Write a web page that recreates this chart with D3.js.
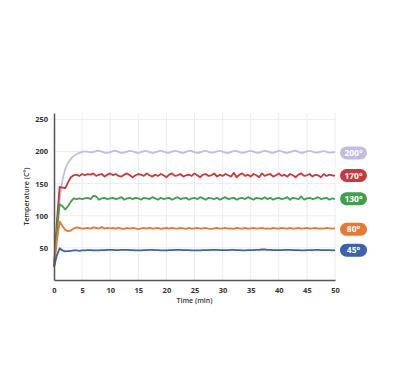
<!DOCTYPE html>
<html>
<head>
<meta charset="utf-8">
<script src="https://cdn.jsdelivr.net/npm/d3@7"></script>
<style>
  body { margin: 0; background: #fff; }
  svg { display: block; font-family: "Open Sans", "DejaVu Sans", sans-serif; }
</style>
</head>
<body>
<div id="chart"></div>
<script>
// Time samples (min)
const times = [
  0, 0.5, 1, 1.5, 2, 2.5, 3, 3.5, 4, 4.5, 5,
  5.5, 6, 6.5, 7, 7.5, 8, 8.5, 9, 9.5, 10,
  10.5, 11, 11.5, 12, 12.5, 13, 13.5, 14, 14.5, 15,
  15.5, 16, 16.5, 17, 17.5, 18, 18.5, 19, 19.5, 20,
  20.5, 21, 21.5, 22, 22.5, 23, 23.5, 24, 24.5, 25,
  25.5, 26, 26.5, 27, 27.5, 28, 28.5, 29, 29.5, 30,
  30.5, 31, 31.5, 32, 32.5, 33, 33.5, 34, 34.5, 35,
  35.5, 36, 36.5, 37, 37.5, 38, 38.5, 39, 39.5, 40,
  40.5, 41, 41.5, 42, 42.5, 43, 43.5, 44, 44.5, 45,
  45.5, 46, 46.5, 47, 47.5, 48, 48.5, 49, 49.5, 50
];

const temp200 = [
  20, 75, 128, 157, 173, 183, 189, 193, 196, 198, 199.5,
  200.5, 199.5, 198.5, 199.5, 201, 201.5, 200, 198, 197.5, 199,
  201, 201.5, 199.5, 197.5, 198, 200, 201.5, 200.5, 198.5, 197.5,
  199, 201, 201, 199, 197.5, 198.5, 200.5, 201.5, 200, 198,
  198, 200, 201.5, 200.5, 198.5, 197.5, 199.5, 201.5, 201, 199,
  197.5, 198.5, 200.5, 201.5, 199.5, 198, 198.5, 200.5, 201.5, 200,
  198, 197.5, 199.5, 201, 201, 199, 197.5, 198.5, 200.5, 201.5,
  200, 198, 198, 200, 201.5, 200.5, 198.5, 197.5, 199.5, 201.5,
  200.5, 198.5, 197.5, 199, 201, 201.5, 199.5, 197.5, 198.5, 200.5,
  201.5, 200, 198, 198.5, 200, 201, 199.5, 198, 198.5, 199.5
];

const temp170 = [
  20, 90, 145, 144, 143, 152, 160, 163, 164, 162, 165,
  163, 165, 164, 166, 162, 164, 165, 161, 164, 166,
  163, 165, 162, 161, 164, 166, 163, 160, 163, 165,
  164, 162, 166, 163, 161, 164, 162, 165, 163, 160,
  164, 166, 162, 163, 165, 161, 163, 164, 162, 166,
  163, 160, 164, 165, 162, 163, 166, 161, 164, 162,
  165, 163, 161, 167, 160, 164, 166, 162, 164, 161,
  165, 163, 160, 166, 162, 164, 165, 161, 163, 166,
  162, 164, 161, 165, 163, 160, 164, 166, 162, 163,
  165, 161, 164, 163, 160, 165, 162, 164, 163, 162
];

const temp130 = [
  20, 75, 118, 115, 110, 115, 122, 127, 126, 127, 126,
  127, 128, 126, 131, 130, 125, 127, 128, 126, 127,
  128, 126, 127, 129, 125, 127, 128, 126, 128, 127,
  125, 128, 127, 126, 129, 127, 125, 128, 126, 127,
  128, 125, 127, 129, 126, 127, 128, 125, 127, 128,
  126, 129, 127, 125, 128, 127, 126, 128, 125, 127,
  129, 126, 127, 128, 125, 127, 128, 126, 129, 127,
  125, 128, 127, 126, 129, 126, 128, 125, 127, 128,
  126, 127, 129, 125, 128, 127, 126, 130, 125, 127,
  128, 126, 127, 129, 126, 127, 128, 125, 127, 126
];

const temp80 = [
  20, 60, 91, 84, 78, 76, 77, 80, 82, 81, 80,
  80.5, 81, 80, 82, 81, 80, 82.5, 80, 81, 80.5,
  81, 80, 81.5, 80, 79.5, 81, 80, 81, 80.5, 79,
  80.5, 81, 80, 81.5, 80, 80.5, 81, 79.5, 80.5, 81,
  80, 81, 80.5, 80, 81, 80.5, 79.5, 81, 80, 80.5,
  81, 80, 80.5, 81, 80, 79.5, 80.5, 81, 80, 80.5,
  81, 80, 80.5, 79.5, 81, 80.5, 80, 81, 80, 80.5,
  81, 80, 80.5, 81, 80, 80.5, 79.5, 81, 80.5, 80,
  81, 80.5, 80, 81, 80, 80.5, 81, 80, 80.5, 81,
  80, 80.5, 81, 80, 80.5, 80, 81, 80.5, 80, 80.5
];

const temp45 = [
  20, 38, 49.5, 46, 44.5, 45, 45.5, 46, 46, 45.5, 46,
  46, 46.5, 46.5, 46, 46, 46, 46.5, 46.5, 47, 47,
  47, 46.5, 46.5, 47, 47, 47, 46.5, 46.5, 46, 46,
  46, 46.5, 46.5, 47, 47, 46.5, 46.5, 46, 46, 46,
  46.5, 46.5, 47, 47, 47, 46.5, 46.5, 46.5, 46, 46,
  46, 46, 46.5, 46.5, 46.5, 47, 47, 47, 46.5, 46.5,
  46.5, 46.5, 47, 47, 46.5, 46.5, 46, 46, 46.5, 46.5,
  46.5, 47, 47, 47.5, 47.5, 47, 47, 46.5, 46.5, 46.5,
  46.5, 47, 47, 47, 46.5, 46.5, 46.5, 46, 46, 46.5,
  46.5, 46.5, 47, 47, 46.5, 46.5, 46.5, 46.5, 46, 46.5
];

const seriesLabels = ["200°", "170°", "130°", "80°", "45°"];
const seriesValues = [temp200, temp170, temp130, temp80, temp45];
const seriesColors = ["#c3bcdf", "#c9383e", "#3f9f4a", "#e37a35", "#3c63ab"];
const xTicks = [0, 5, 10, 15, 20, 25, 30, 35, 40, 45, 50];
const yTicks = [50, 100, 150, 200, 250];

(function () {
  const W = 400, H = 375;
  const x = d3.scaleLinear().domain([0, 50]).range([54, 335]);
  const y = d3.scaleLinear().domain([0, 260]).range([280, 113]);

  const svg = d3.select("#chart").append("svg")
    .attr("width", W).attr("height", H);

  // grid
  svg.append("g").selectAll("line.v")
    .data(xTicks.slice(1))
    .join("line")
    .attr("x1", d => x(d)).attr("x2", d => x(d))
    .attr("y1", y(260)).attr("y2", y(0))
    .attr("stroke", "#ececec").attr("stroke-width", 1);

  svg.append("g").selectAll("line.h")
    .data(yTicks)
    .join("line")
    .attr("x1", x(0)).attr("x2", x(50) + 1)
    .attr("y1", d => y(d)).attr("y2", d => y(d))
    .attr("stroke", "#ececec").attr("stroke-width", 1);

  // lines
  seriesValues.forEach((vals, i) => {
    const pts = times.map((t, j) => [t, vals[j]]);
    svg.append("path")
      .datum(pts)
      .attr("d", d3.line()
        .x(d => x(d[0]))
        .y(d => y(d[1]))
        .curve(i === 0 ? d3.curveBasis : d3.curveLinear))
      .attr("fill", "none")
      .attr("stroke", seriesColors[i])
      .attr("stroke-width", 1.8)
      .attr("stroke-linejoin", "round");
  });

  // axes
  const xAxis = svg.append("g")
    .attr("transform", `translate(0,${y(0)})`)
    .call(d3.axisBottom(x).tickValues(xTicks).tickSize(0).tickPadding(8));
  const yAxis = svg.append("g")
    .attr("transform", `translate(${x(0)},0)`)
    .call(d3.axisLeft(y).tickValues(yTicks).tickSize(0).tickPadding(6));

  [xAxis, yAxis].forEach(g => {
    g.select(".domain").attr("stroke", "#555").attr("stroke-width", 1.5);
    g.selectAll("text")
      .attr("font-family", "'Open Sans', sans-serif")
      .attr("font-size", "7.5px")
      .attr("font-weight", "bold")
      .attr("fill", "#333");
  });

  // axis titles
  svg.append("text")
    .attr("x", (x(0) + x(50)) / 2).attr("y", 303)
    .attr("text-anchor", "middle")
    .attr("font-size", "7px").attr("font-weight", 600).attr("fill", "#333")
    .text("Time (min)");

  svg.append("text")
    .attr("transform", `translate(29,${(y(0) + y(260)) / 2}) rotate(-90)`)
    .attr("text-anchor", "middle")
    .attr("font-size", "7px").attr("font-weight", 600).attr("fill", "#333")
    .text("Temperature (C°)");

  // end labels
  const ends = seriesValues.map(v => d3.mean(v.slice(-6)));
  const labelY = [y(ends[0]) + 1, y(ends[1]), y(ends[2]), y(ends[3]) + 1, y(ends[4])];
  seriesLabels.forEach((lab, i) => {
    const g = svg.append("g").attr("transform", `translate(353.5,${labelY[i]})`);
    g.append("rect")
      .attr("x", -13.5).attr("y", -6.5)
      .attr("width", 27).attr("height", 13)
      .attr("rx", 6.5)
      .attr("fill", seriesColors[i]);
    g.append("text")
      .attr("text-anchor", "middle")
      .attr("dy", "0.35em")
      .attr("font-size", "8.5px").attr("font-weight", "bold")
      .attr("fill", "#fff")
      .text(lab);
  });
})();
</script>
</body>
</html>
